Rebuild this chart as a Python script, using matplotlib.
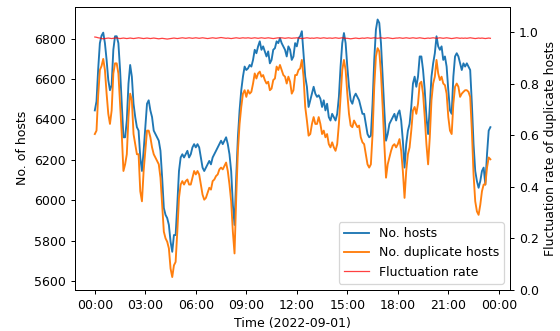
import matplotlib
matplotlib.use("Agg")
import matplotlib.pyplot as plt
import matplotlib.dates as mdates
import pandas as pd

start_time = "2022-09-01 00:00"
step = "6min"

hosts = [
    6445, 6490, 6650, 6778, 6815, 6830,
    6778, 6695, 6595, 6545, 6570, 6745, 6812, 6812, 6778, 6645, 6478, 6312, 6312, 6395,
    6578, 6670, 6612, 6478, 6412, 6362, 6345, 6212, 6145, 6245, 6362, 6478, 6495, 6445,
    6412, 6345, 6328, 6312, 6295, 6245, 6112, 5962, 5928, 5912, 5878, 5795, 5745, 5828,
    5828, 5978, 6145, 6212, 6228, 6212, 6228, 6245, 6212, 6228, 6262, 6278, 6262, 6278,
    6262, 6212, 6162, 6145, 6162, 6178, 6195, 6178, 6212, 6228, 6245, 6262, 6278, 6295,
    6278, 6295, 6312, 6278, 6228, 6145, 5978, 5878, 6112, 6312, 6445, 6545, 6612, 6662,
    6645, 6653, 6670, 6662, 6695, 6745,
    6728, 6762, 6787, 6745, 6762, 6737, 6712, 6737, 6678, 6695, 6745, 6753, 6787, 6778,
    6803, 6778, 6762, 6745, 6712, 6762, 6745, 6695, 6712, 6778, 6762, 6803, 6812, 6837,
    6728, 6612, 6562, 6462, 6495, 6528, 6562, 6528, 6512, 6520, 6503, 6462, 6495, 6445,
    6478, 6412, 6395, 6428, 6412,
    6395, 6428, 6512, 6662, 6778, 6828, 6778, 6662, 6562, 6495, 6478, 6512, 6528, 6512,
    6495, 6462, 6428, 6428, 6378, 6328, 6312, 6320, 6478, 6695, 6845, 6895, 6878, 6778,
    6612, 6445, 6295, 6328, 6378, 6395, 6412, 6428, 6395, 6428, 6445, 6395, 6295, 6162,
    6278, 6345, 6378, 6462, 6578, 6612,
    6562, 6612, 6712, 6712, 6645, 6545, 6412, 6328, 6462, 6612, 6678, 6728, 6812, 6762,
    6745, 6762, 6695, 6712, 6662, 6545, 6445, 6428, 6612, 6712, 6728, 6712, 6678, 6645,
    6678, 6662, 6678, 6662, 6645, 6478, 6278, 6145, 6095, 6062, 6095, 6145, 6162, 6078,
    6228, 6345, 6362,
]

duplicate_hosts = [
    6328, 6345, 6520, 6645, 6665, 6700,
    6645, 6528, 6428, 6378, 6445, 6628, 6678, 6678, 6628, 6478, 6328, 6145, 6178, 6228,
    6412, 6528, 6495, 6328, 6278, 6228, 6228, 6045, 5995, 6145, 6245, 6345, 6345, 6312,
    6262, 6228, 6212, 6195, 6178, 6112, 5978, 5845, 5812, 5795, 5762, 5662, 5620, 5678,
    5695, 5845, 6012, 6078, 6095, 6078, 6095, 6103, 6078, 6078, 6112, 6145, 6128, 6145,
    6128, 6078, 6028, 6003, 6012, 6037, 6062, 6053, 6095, 6103, 6120, 6128, 6153, 6162,
    6153, 6170, 6187, 6145, 6078, 5995, 5845, 5737, 6012, 6245, 6378, 6462, 6528, 6545,
    6512, 6545, 6528, 6537, 6578, 6628,
    6603, 6628, 6637, 6612, 6620, 6595, 6578, 6587, 6545, 6553, 6595, 6603, 6662, 6645,
    6670, 6645, 6620, 6612, 6578, 6612, 6587, 6528, 6545, 6620, 6620, 6645, 6653, 6695,
    6612, 6462, 6395, 6320, 6328, 6378, 6412, 6378, 6378, 6412, 6378, 6328, 6345, 6312,
    6328, 6278, 6262, 6287, 6262,
    6245, 6278, 6378, 6512, 6645, 6695, 6645, 6528, 6428, 6370, 6362, 6395, 6378, 6362,
    6370, 6312, 6287, 6278, 6228, 6178, 6162, 6178, 6328, 6562, 6712, 6753, 6737, 6628,
    6462, 6278, 6112, 6178, 6212, 6245, 6270, 6278, 6262, 6278, 6303, 6245, 6145, 6012,
    6145, 6228, 6262, 6345, 6445, 6462,
    6428, 6478, 6578, 6587, 6528, 6412, 6278, 6178, 6312, 6495, 6578, 6612, 6695, 6628,
    6595, 6612, 6578, 6570, 6528, 6412, 6345, 6328, 6478, 6562, 6578, 6562, 6512, 6528,
    6537, 6545, 6545, 6537, 6512, 6345, 6128, 5995, 5945, 5928, 5978, 6045, 6078, 6078,
    6162, 6212, 6203,
]

fluctuation_rate = [
    0.982, 0.981, 0.979, 0.978, 0.976, 0.975, 0.976, 0.977, 0.978, 0.977,
    0.976, 0.977, 0.978, 0.979, 0.977, 0.976, 0.977, 0.978, 0.977, 0.976,
    0.977, 0.978, 0.977, 0.976, 0.977, 0.978, 0.979, 0.978, 0.977, 0.976,
    0.977, 0.978, 0.977, 0.976, 0.977, 0.978, 0.977, 0.976, 0.975, 0.976,
    0.977, 0.976, 0.975, 0.974, 0.975, 0.976, 0.977, 0.978, 0.977, 0.976,
    0.977, 0.978, 0.979, 0.978, 0.977, 0.978, 0.979, 0.978, 0.977, 0.978,
    0.979, 0.978, 0.977, 0.978, 0.979, 0.978, 0.977, 0.976, 0.977, 0.978,
    0.979, 0.978, 0.977, 0.978, 0.979, 0.980, 0.979, 0.978, 0.977, 0.978,
    0.977, 0.976, 0.977, 0.978, 0.979, 0.978, 0.977, 0.978, 0.979, 0.978,
    0.978, 0.979, 0.978, 0.977, 0.978, 0.979, 0.978, 0.977, 0.978, 0.979,
    0.978, 0.977, 0.978, 0.979, 0.978, 0.977, 0.976, 0.977, 0.978, 0.979,
    0.978, 0.979, 0.978, 0.977, 0.978, 0.979, 0.978, 0.977, 0.978, 0.978,
    0.979, 0.978, 0.977, 0.976, 0.977, 0.978, 0.979, 0.978, 0.977, 0.978,
    0.977, 0.978, 0.979, 0.978, 0.977, 0.978, 0.979, 0.978, 0.977, 0.978,
    0.978, 0.977, 0.978, 0.979, 0.978, 0.977, 0.978, 0.979, 0.978, 0.977,
    0.977, 0.976, 0.975, 0.976, 0.977, 0.978, 0.977, 0.976, 0.977, 0.978,
    0.977, 0.978, 0.979, 0.978, 0.977, 0.978, 0.979, 0.978, 0.977, 0.978,
    0.979, 0.978, 0.977, 0.978, 0.979, 0.978, 0.977, 0.976, 0.977, 0.978,
    0.978, 0.979, 0.978, 0.977, 0.978, 0.979, 0.978, 0.977, 0.978, 0.979,
    0.978, 0.977, 0.978, 0.979, 0.978, 0.977, 0.976, 0.977, 0.978, 0.977,
    0.978, 0.979, 0.978, 0.977, 0.978, 0.979, 0.978, 0.977, 0.978, 0.979,
    0.978, 0.977, 0.976, 0.977, 0.978, 0.979, 0.978, 0.977, 0.978, 0.977,
    0.978, 0.977, 0.978, 0.979, 0.978, 0.977, 0.976, 0.977, 0.978, 0.977,
    0.978, 0.977, 0.976, 0.977, 0.978, 0.977,
]

times = pd.date_range(start_time, periods=len(hosts), freq=step)

plt.rcParams["font.family"] = ["DejaVu Sans"]
fig, ax = plt.subplots(figsize=(560 / 90, 331 / 90), dpi=90)
l1, = ax.plot(times, hosts, color="tab:blue", lw=1.5, label="No. hosts")
l2, = ax.plot(times, duplicate_hosts, color="tab:orange", lw=1.5, label="No. duplicate hosts")
ax.set_ylabel("No. of hosts")
ax.set_xlabel("Time (2022-09-01)")
ax.xaxis.set_major_locator(mdates.HourLocator(byhour=range(0, 24, 3)))
ax.xaxis.set_major_formatter(mdates.DateFormatter("%H:%M"))

ax2 = ax.twinx()
l3, = ax2.plot(times, fluctuation_rate, color="red", lw=1.0, alpha=0.75, label="Fluctuation rate")
ax2.set_ylim(0, 1.1)
ax2.set_ylabel("Fluctuation rate of duplicate hosts")

ax2.legend(handles=[l1, l2, l3], loc="lower right")

fig.subplots_adjust(left=0.134, right=0.911, bottom=0.124, top=0.98)
fig.savefig("out.png", dpi=90)
